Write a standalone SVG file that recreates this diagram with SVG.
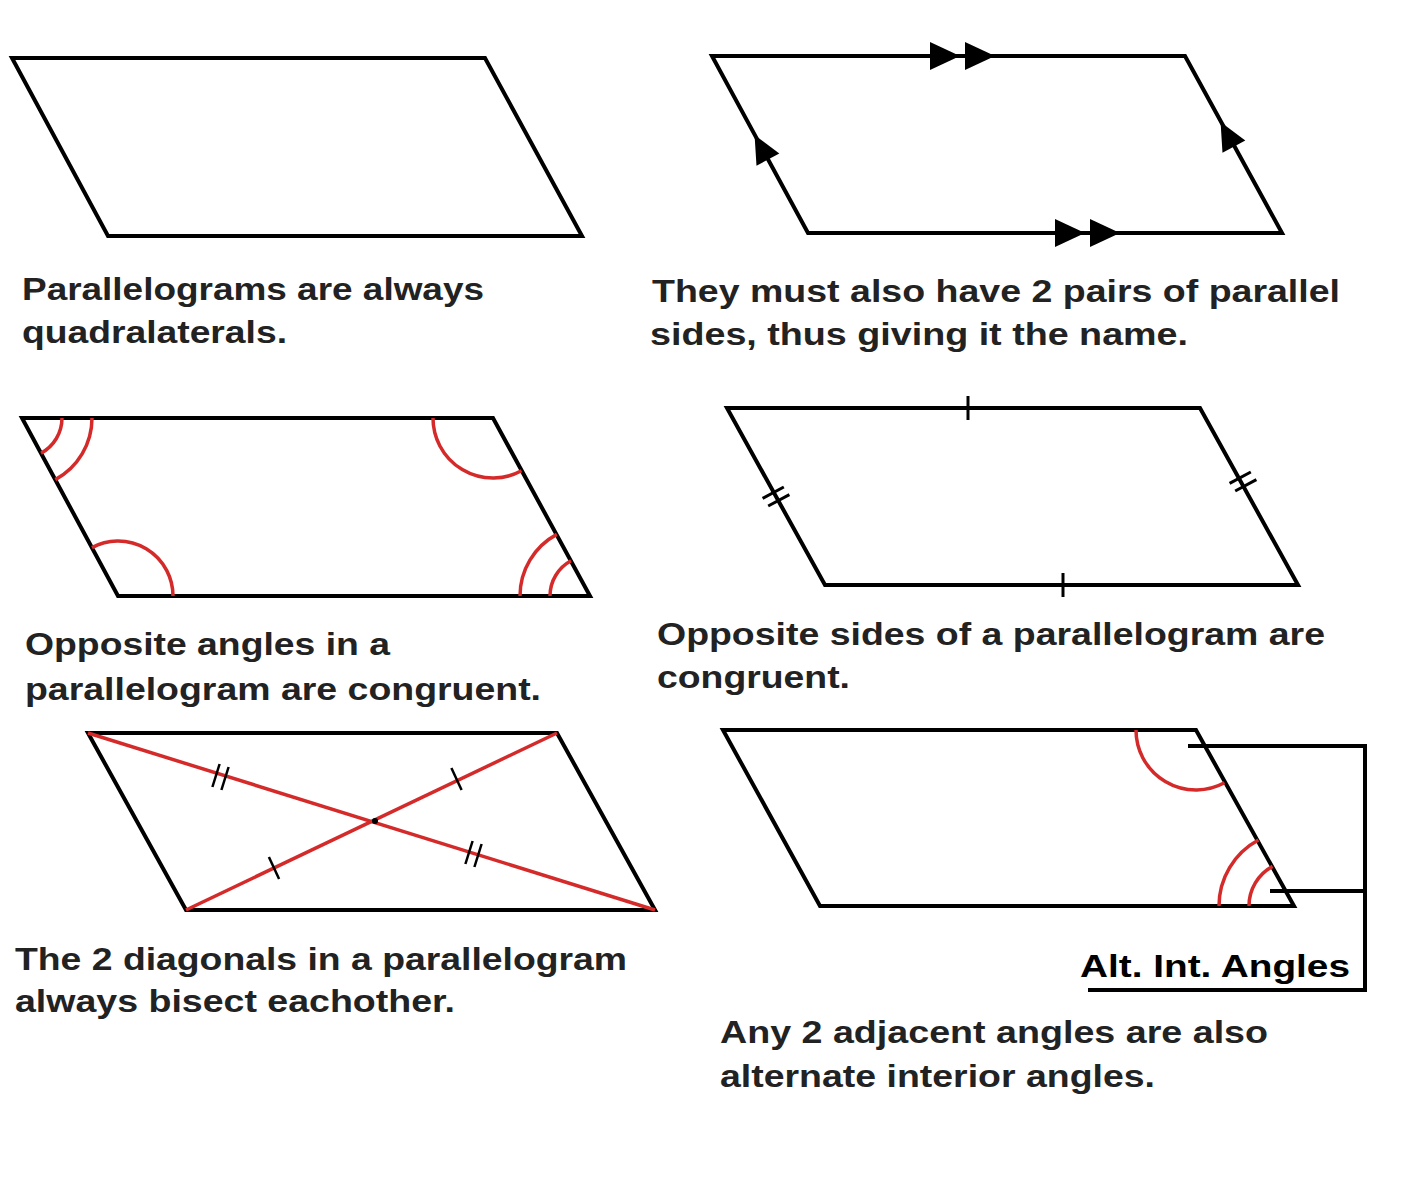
<svg xmlns="http://www.w3.org/2000/svg" width="1421" height="1200" viewBox="0 0 1421 1200">
<style>
.s{fill:none;stroke:#000;stroke-width:4;stroke-linejoin:miter}
.r{fill:none;stroke:#d42a2a;stroke-width:3.5}
.t{font-family:"Liberation Sans",Arial,sans-serif;font-weight:bold;font-size:32px;fill:#222}
</style>
<rect width="1421" height="1200" fill="#fff"/>
<g id="p1"><polygon class="s" points="12,58 485,58 582,236 108,236"/>
<text class="t" x="22" y="300" textLength="462" lengthAdjust="spacingAndGlyphs">Parallelograms are always</text><text class="t" x="22" y="343" textLength="265" lengthAdjust="spacingAndGlyphs">quadralaterals.</text></g>
<g id="p2"><polygon class="s" points="712,56 1185,56 1282,233 808,233"/>
<polygon points="930,42 930,70 960,56"/><polygon points="965,42 965,70 995,56"/>
<polygon points="1055,219 1055,247 1085,233"/><polygon points="1090,219 1090,247 1120,233"/>
<polygon points="754.6,135 779.3,153.4 756.5,165.8"/><polygon points="1220.6,122 1245.3,140.4 1222.5,152.8"/>
<text class="t" x="652" y="302" textLength="688" lengthAdjust="spacingAndGlyphs">They must also have 2 pairs of parallel</text><text class="t" x="650" y="345" textLength="538" lengthAdjust="spacingAndGlyphs">sides, thus giving it the name.</text></g>
<g id="p3"><polygon class="s" points="22,418 493,418 590,596 118,596"/>
<path class="r" d="M62,418 A40,40 0 0 1 41,453.2 M92,418 A70,70 0 0 1 55.3,479.6"/>
<path class="r" d="M433,418 A60,60 0 0 0 521.5,470.8"/>
<path class="r" d="M173,596 A55,55 0 0 0 91.9,547.6"/>
<path class="r" d="M550,596 A40,40 0 0 1 571,560.8 M520,596 A70,70 0 0 1 556.8,534.4"/>
<text class="t" x="25" y="655" textLength="365" lengthAdjust="spacingAndGlyphs">Opposite angles in a</text><text class="t" x="25" y="700" textLength="516" lengthAdjust="spacingAndGlyphs">parallelogram are congruent.</text></g>
<g id="p4"><polygon class="s" points="727,408 1200,408 1298,585 825,585"/>
<g class="s" style="stroke-width:3"><line x1="968" y1="396" x2="968" y2="420"/><line x1="1063" y1="573" x2="1063" y2="597"/>
<line x1="762.6" y1="498.4" x2="783.8" y2="487"/><line x1="768.2" y1="506" x2="789.4" y2="494.6"/>
<line x1="1229.6" y1="483.4" x2="1250.8" y2="472"/><line x1="1235.2" y1="491" x2="1256.4" y2="479.6"/></g>
<text class="t" x="657" y="645" textLength="668" lengthAdjust="spacingAndGlyphs">Opposite sides of a parallelogram are</text><text class="t" x="657" y="688" textLength="193" lengthAdjust="spacingAndGlyphs">congruent.</text></g>
<g id="p5"><polygon class="s" points="88,733 557,733 655,910 186,910"/>
<line class="r" x1="88" y1="733" x2="655" y2="910"/><line class="r" x1="557" y1="733" x2="186" y2="910"/>
<circle cx="375" cy="821" r="3" fill="#000"/>
<g class="s" style="stroke-width:2.5"><line x1="219.6" y1="764" x2="212.4" y2="787"/><line x1="228.6" y1="767" x2="221.4" y2="790"/>
<line x1="472.6" y1="841" x2="465.4" y2="864"/><line x1="481.6" y1="844" x2="474.4" y2="867"/>
<line x1="451.4" y1="768" x2="461.6" y2="790"/><line x1="268.9" y1="857" x2="279.1" y2="879"/></g>
<text class="t" x="15" y="970" textLength="612" lengthAdjust="spacingAndGlyphs">The 2 diagonals in a parallelogram</text><text class="t" x="15" y="1012" textLength="440" lengthAdjust="spacingAndGlyphs">always bisect eachother.</text></g>
<g id="p6"><polygon class="s" points="723,730 1196,730 1294,906 820,906"/>
<path class="r" d="M1136,730 A60,60 0 0 0 1224.5,782.8"/>
<path class="r" d="M1249,906 A45,45 0 0 1 1272.6,866.4 M1219,906 A75,75 0 0 1 1258.4,840"/>
<polyline class="s" points="1188,746 1365,746 1365,990 1088,990"/><line class="s" x1="1270" y1="891" x2="1365" y2="891"/>
<text class="t" x="1080" y="977" textLength="270" lengthAdjust="spacingAndGlyphs" style="fill:#000">Alt. Int. Angles</text>
<text class="t" x="720" y="1043" textLength="548" lengthAdjust="spacingAndGlyphs">Any 2 adjacent angles are also</text><text class="t" x="720" y="1087" textLength="435" lengthAdjust="spacingAndGlyphs">alternate interior angles.</text></g>
</svg>
